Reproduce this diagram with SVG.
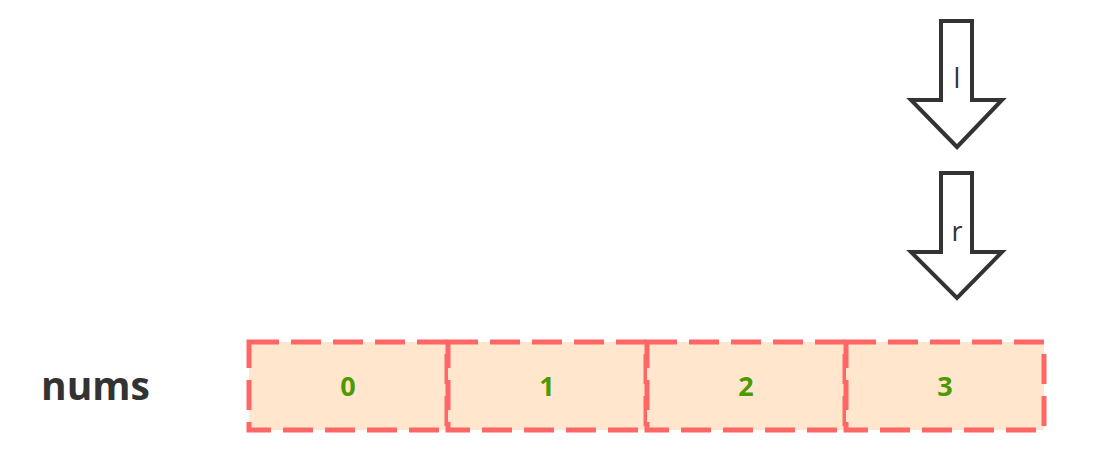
<svg xmlns="http://www.w3.org/2000/svg" width="1093" height="473" viewBox="0 0 1093 473">
<style>
.cell{fill:#FFE6CC;stroke:#FF6666;stroke-width:5;stroke-dasharray:30 12;}
.num{font-family:"Open Sans","Liberation Sans",sans-serif;font-weight:bold;font-size:27px;fill:#4D9900;text-anchor:middle;}
.arrow{fill:#FFFFFF;stroke:#333333;stroke-width:4;stroke-linejoin:miter;}
.lbl{font-family:"Open Sans","Liberation Sans",sans-serif;font-size:27px;fill:#333333;text-anchor:middle;}
.title{font-family:"Open Sans","Liberation Sans",sans-serif;font-weight:bold;font-size:39px;fill:#333333;}
</style>
<rect width="1093" height="473" fill="#FFFFFF"/>
<g id="label-nums"><text class="title" x="41" y="400">nums</text></g>
<g id="cell0"><rect class="cell" x="249" y="342" width="198" height="88"/><text class="num" x="348" y="396">0</text></g>
<g id="cell1"><rect class="cell" x="448" y="342" width="198" height="88"/><text class="num" x="547" y="396">1</text></g>
<g id="cell2"><rect class="cell" x="647" y="342" width="198" height="88"/><text class="num" x="746" y="396">2</text></g>
<g id="cell3"><rect class="cell" x="846" y="342" width="198" height="88"/><text class="num" x="945" y="396">3</text></g>
<g id="arrow-l"><path class="arrow" d="M941,21 H972 V100 H1002 L957,147 L911,100 H941 Z"/><text class="lbl" x="957" y="88">l</text></g>
<g id="arrow-r"><path class="arrow" d="M941,173 H972 V252 H1002 L957,298 L911,252 H941 Z"/><text class="lbl" x="957" y="241">r</text></g>
<g id="connectors"></g>
</svg>
